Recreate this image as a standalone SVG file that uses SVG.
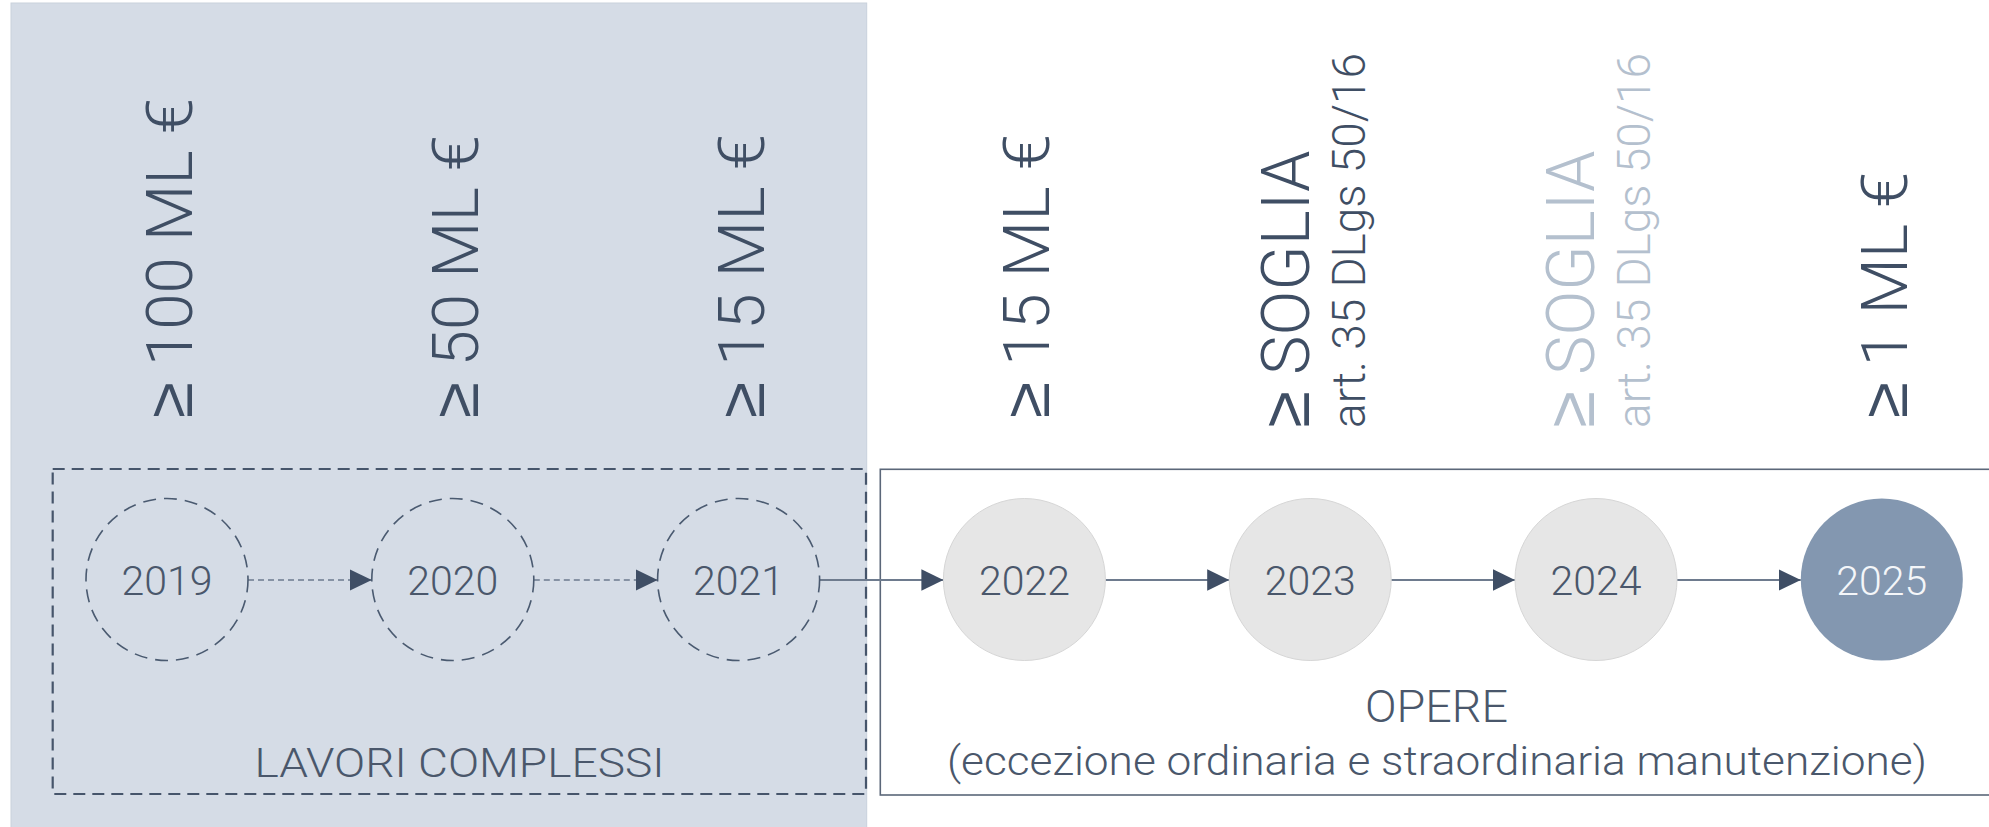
<svg xmlns="http://www.w3.org/2000/svg" width="1989" height="827" viewBox="0 0 1989 827">
<defs>
<style>
.bg{fill:#d5dce6;stroke:#c9d1dc;stroke-width:1}
.lbl{font-family:Roboto,"Liberation Sans",Arial,sans-serif;font-weight:300;font-size:64px;fill:#3f4e64}
.big{font-family:Roboto,"Liberation Sans",Arial,sans-serif;font-weight:300;font-size:67px}
.small{font-family:Roboto,"Liberation Sans",Arial,sans-serif;font-weight:300;font-size:45.5px}
.ge{font-family:"Liberation Sans",Arial,sans-serif;font-weight:normal}
.dark{fill:#3f4e64}
.pale{fill:#b4c0ce}
.year{font-family:Roboto,"Liberation Sans",Arial,sans-serif;font-weight:300;font-size:41px;fill:#4a576b;text-anchor:middle}
.cap{font-family:Roboto,"Liberation Sans",Arial,sans-serif;font-weight:300;fill:#4a576b;text-anchor:middle}
.dcircle{fill:none;stroke:#4a5a70;stroke-width:1.6;stroke-dasharray:13 8}
.fcircle{fill:#e6e6e6;stroke:#d6d6d6;stroke-width:1}
.dash-link{fill:none;stroke:#6c7a8e;stroke-width:1.3;stroke-dasharray:6 4}
.link{fill:none;stroke:#6e7b8e;stroke-width:1.8}
</style>
<marker id="arr" markerUnits="userSpaceOnUse" markerWidth="23" markerHeight="22" refX="22" refY="10.7" orient="auto">
<path d="M0,0 L22,10.7 L0,21.4 Z" fill="#3f4e65"/>
</marker>
</defs>

<rect id="bg-lavori" class="bg" x="11" y="3" width="855.7" height="830"/>

<g id="group-lavori">
<rect x="52.7" y="469" width="813.3" height="325" fill="none" stroke="#46556b" stroke-width="2.2" stroke-dasharray="12 7"/>
<text class="cap" x="459.5" y="777" font-size="40" textLength="410" lengthAdjust="spacingAndGlyphs">LAVORI COMPLESSI</text>
</g>

<g id="group-opere">
<rect x="880.3" y="469.3" width="1115" height="325.7" fill="none" stroke="#5b6779" stroke-width="1.6"/>
<text class="cap" x="1436.5" y="721.5" font-size="44" textLength="143" lengthAdjust="spacingAndGlyphs">OPERE</text>
<text class="cap" x="1437" y="775" font-size="41" textLength="980" lengthAdjust="spacingAndGlyphs">(eccezione ordinaria e straordinaria manutenzione)</text>
</g>

<g id="connectors">
<line class="dash-link" x1="248" y1="580" x2="371.8" y2="580" marker-end="url(#arr)"/>
<line class="dash-link" x1="533.8" y1="580" x2="657.6" y2="580" marker-end="url(#arr)"/>
<line class="link" x1="819.6" y1="580" x2="943.4" y2="580" marker-end="url(#arr)"/>
<line class="link" x1="1105.4" y1="580" x2="1229.2" y2="580" marker-end="url(#arr)"/>
<line class="link" x1="1391.2" y1="580" x2="1515" y2="580" marker-end="url(#arr)"/>
<line class="link" x1="1677" y1="580" x2="1800.8" y2="580" marker-end="url(#arr)"/>
</g>

<g id="node-2019">
<circle class="dcircle" cx="167" cy="579.5" r="81"/>
<text class="year" x="167" y="595">2019</text>
<text class="lbl" transform="translate(192,418) rotate(-90)" textLength="320" lengthAdjust="spacingAndGlyphs"><tspan class="ge">≥</tspan> 100 ML €</text>
</g>

<g id="node-2020">
<circle class="dcircle" cx="452.8" cy="579.5" r="81"/>
<text class="year" x="452.8" y="595">2020</text>
<text class="lbl" transform="translate(478,418) rotate(-90)" textLength="283" lengthAdjust="spacingAndGlyphs"><tspan class="ge">≥</tspan> 50 ML €</text>
</g>

<g id="node-2021">
<circle class="dcircle" cx="738.6" cy="579.5" r="81"/>
<text class="year" x="738.6" y="595">2021</text>
<text class="lbl" transform="translate(763.6,418) rotate(-90)" textLength="284" lengthAdjust="spacingAndGlyphs"><tspan class="ge">≥</tspan> 15 ML €</text>
</g>

<g id="node-2022">
<circle class="fcircle" cx="1024.4" cy="579.5" r="81"/>
<text class="year" x="1024.4" y="595">2022</text>
<text class="lbl" transform="translate(1049,418) rotate(-90)" textLength="284" lengthAdjust="spacingAndGlyphs"><tspan class="ge">≥</tspan> 15 ML €</text>
</g>

<g id="node-2023">
<circle class="fcircle" cx="1310.2" cy="579.5" r="81"/>
<text class="year" x="1310.2" y="595">2023</text>
<text class="big dark" transform="translate(1308.5,427.5) rotate(-90)" textLength="277" lengthAdjust="spacingAndGlyphs"><tspan class="ge">≥</tspan> SOGLIA</text>
<text class="small dark" transform="translate(1364.5,428) rotate(-90)" textLength="375" lengthAdjust="spacingAndGlyphs">art. 35 DLgs 50/16</text>
</g>

<g id="node-2024">
<circle class="fcircle" cx="1596" cy="579.5" r="81"/>
<text class="year" x="1596" y="595">2024</text>
<text class="big pale" transform="translate(1594,427.5) rotate(-90)" textLength="277" lengthAdjust="spacingAndGlyphs"><tspan class="ge">≥</tspan> SOGLIA</text>
<text class="small pale" transform="translate(1650,428) rotate(-90)" textLength="375" lengthAdjust="spacingAndGlyphs">art. 35 DLgs 50/16</text>
</g>

<g id="node-2025">
<circle cx="1881.8" cy="579.5" r="81" fill="#8397b0"/>
<text class="year" x="1881.8" y="595" style="fill:#f4f6f9">2025</text>
<text class="lbl" transform="translate(1907,418) rotate(-90)" textLength="246" lengthAdjust="spacingAndGlyphs"><tspan class="ge">≥</tspan> 1 ML €</text>
</g>
</svg>
